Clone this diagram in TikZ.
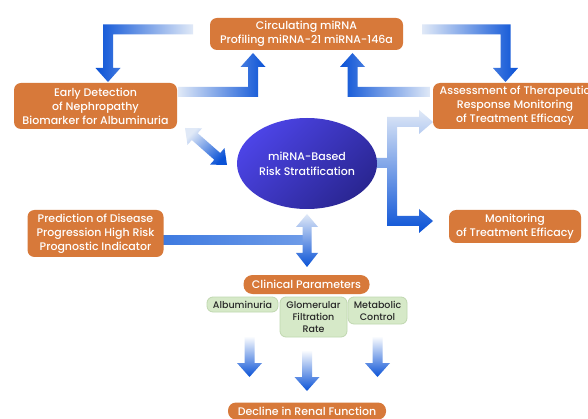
\documentclass[tikz,border=0pt]{standalone}
\usepackage{fontspec}
\IfFontExistsTF{Poppins Medium}{\setmainfont{Poppins Medium}}{%
  \IfFontExistsTF{Poppins SemiBold}{\setmainfont{Poppins SemiBold}}{%
    \setmainfont{Poppins}[FakeBold=2.5]}}
\usetikzlibrary{shapes.geometric}
\definecolor{boxorange}{RGB}{215,121,58}
\definecolor{arrowdark}{RGB}{10,82,214}
\definecolor{arrowlight}{RGB}{224,233,247}
\definecolor{arrowmid}{RGB}{62,122,224}
\definecolor{ellA}{RGB}{76,68,230}
\definecolor{ellB}{RGB}{42,38,146}
\definecolor{greenfill}{RGB}{214,233,200}
\definecolor{greenline}{RGB}{192,216,176}
\definecolor{greentext}{RGB}{40,40,40}
\tikzset{
  obox/.style={fill=boxorange, rounded corners=7pt, text=white, align=center,
    inner sep=0pt, font=\fontsize{11}{14}\selectfont},
  gbox/.style={fill=greenfill, draw=greenline, line width=0.8pt, rounded corners=6pt,
    text=greentext, align=center, inner sep=0pt, font=\fontsize{9.5}{12}\selectfont},
  fadeL/.style={left color=arrowlight, right color=arrowdark},
  fadeR/.style={left color=arrowdark, right color=arrowlight},
  fadeT/.style={top color=arrowlight, bottom color=arrowdark},
  fadeW/.style={top color=white, bottom color=arrowdark},
}
\begin{document}
\begin{tikzpicture}[x=1pt,y=-1pt]
\useasboundingbox (0,0) rectangle (588,419);
\fill[white] (0,0) rectangle (588,419);

% ---------- connectors (thick shaded arrows) ----------
% top box -> early detection
\shade[fadeR] (193,24.5) -- (103,24.5) -- (103,68) -- (95.5,68) -- (108,82) -- (120.5,68)
  -- (113,68) -- (113,34.5) -- (193,34.5) -- cycle;
% early detection -> top box
\shade[fadeL] (178,87) -- (248,87) -- (248,67) -- (240.5,67) -- (253,53) -- (265.5,67)
  -- (258,67) -- (258,97) -- (178,97) -- cycle;
% top box -> assessment
\shade[fadeL] (422,24.5) -- (510.5,24.5) -- (510.5,68) -- (518,68) -- (505.5,82) -- (493,68)
  -- (500.5,68) -- (500.5,34.5) -- (422,34.5) -- cycle;
% assessment -> top box
\shade[fadeR] (430,87) -- (357.5,87) -- (357.5,67) -- (365,67) -- (352.5,53) -- (340,67)
  -- (347.5,67) -- (347.5,97) -- (430,97) -- cycle;
% early detection <-> ellipse
\shade[top color=arrowlight, bottom color=arrowdark, shading angle=45]
  (185,128) -- (187.5,144.8) -- (191.8,140.0) -- (214.3,159.8) -- (210.0,164.6) -- (227,165)
  -- (224.5,148.1) -- (220.2,153.0) -- (197.7,133.2) -- (202.0,128.3) -- cycle;
% ellipse -> assessment / monitoring
\shade[fadeT] (387,117) -- (419,117) -- (419,110) -- (433,122) -- (419,134) -- (419,127)
  -- (397,127) -- (397,216) -- (419,216) -- (419,209) -- (433,221) -- (419,233) -- (419,226)
  -- (387,226) -- (387,168) -- (372,168) -- (372,158) -- (387,158) -- cycle;
% prediction -> vertical double arrow
\shade[left color=arrowmid, right color=arrowmid!75] (163,236) rectangle (304,245);
\shade[fadeT] (307,214) -- (318,227) -- (311.5,227) -- (311.5,253) -- (318,253) -- (307,267)
  -- (296,253) -- (302.5,253) -- (302.5,227) -- (296,227) -- cycle;
% parameters -> decline
\shade[fadeW] (244.5,336) -- (254.5,336) -- (254.5,363) -- (262,363) -- (249.5,377)
  -- (237,363) -- (244.5,363) -- cycle;
\shade[fadeW] (302,350) -- (312,350) -- (312,377) -- (319.5,377) -- (307,391)
  -- (294.5,377) -- (302,377) -- cycle;
\shade[fadeW] (372.5,336) -- (382.5,336) -- (382.5,363) -- (390,363) -- (377.5,377)
  -- (365,363) -- (372.5,363) -- cycle;

% ---------- nodes ----------
\node[obox, minimum width=193pt, minimum height=32pt] (top) at (306.5,34)
  {Circulating miRNA\\Profiling miRNA-21 miRNA-146a};
\node[obox, minimum width=163pt, minimum height=46pt] (early) at (95.5,106)
  {Early Detection\\of Nephropathy\\Biomarker for Albuminuria};
\node[obox, minimum width=164pt, minimum height=46pt] (assess) at (515,106)
  {Assessment of Therapeutic\\Response Monitoring\\of Treatment Efficacy};
\node[ellipse, minimum width=140pt, minimum height=91pt, inner sep=0pt,
  top color=ellA, bottom color=ellB, shading angle=45, text=white, align=center,
  font=\fontsize{11}{15}\selectfont] (risk) at (307,163.5)
  {miRNA-Based\\Risk Stratification};
\node[obox, minimum width=136pt, minimum height=47pt] (pred) at (95.5,233.5)
  {Prediction of Disease\\Progression High Risk\\Prognostic Indicator};
\node[obox, minimum width=132pt, minimum height=33pt] (monit) at (515,226.5)
  {Monitoring\\of Treatment Efficacy};
\node[obox, rounded corners=9pt, minimum width=126pt, minimum height=19pt] (clin) at (306.5,284.5)
  {Clinical Parameters};
\node[gbox, minimum width=71pt, minimum height=15pt] (alb) at (242.5,304.5) {Albuminuria};
\node[gbox, minimum width=67pt, minimum height=40pt] (glo) at (313.5,317)
  {Glomerular\\Filtration\\Rate};
\node[gbox, minimum width=59pt, minimum height=27pt] (met) at (377.5,310.5)
  {Metabolic\\Control};
\node[obox, rounded corners=8pt, minimum width=158pt, minimum height=17pt] (decl) at (307,411)
  {Decline in Renal Function};
\end{tikzpicture}
\end{document}
